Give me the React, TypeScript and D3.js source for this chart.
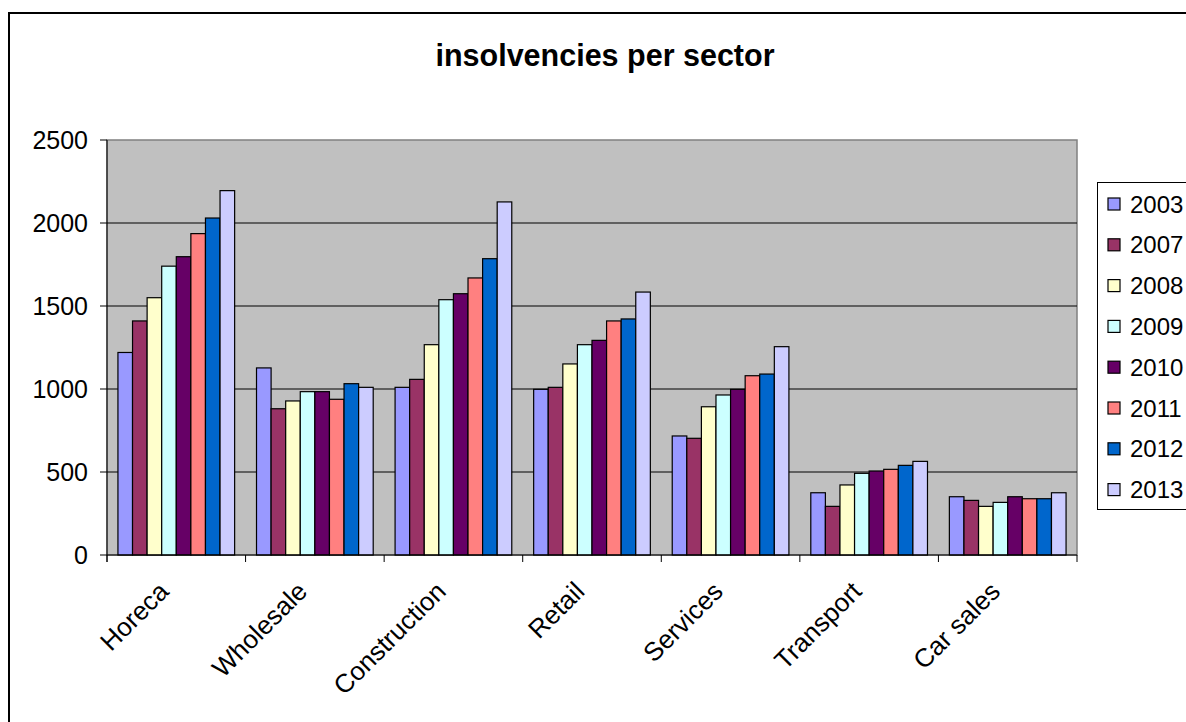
import React from "react";
import * as d3 from "d3";

const categories = ["Horeca", "Wholesale", "Construction", "Retail", "Services", "Transport", "Car sales"];
const years = ["2003", "2007", "2008", "2009", "2010", "2011", "2012", "2013"];
const colors = ["#9999FF", "#993366", "#FFFFCC", "#CCFFFF", "#660066", "#FF8080", "#0066CC", "#CCCCFF"];

// values[category][year]
const horeca = [1220, 1410, 1550, 1740, 1797, 1936, 2030, 2195];
const wholesale = [1127, 881, 928, 984, 984, 938, 1032, 1010];
const construction = [1010, 1058, 1267, 1538, 1574, 1669, 1785, 2127];
const retail = [998, 1010, 1151, 1267, 1293, 1410, 1422, 1584];
const services = [717, 703, 893, 964, 998, 1080, 1090, 1255];
const transport = [375, 293, 422, 492, 506, 516, 540, 564];
const carSales = [351, 329, 293, 317, 351, 339, 339, 375];
const values = [horeca, wholesale, construction, retail, services, transport, carSales];
const yTicks = [0, 500, 1000, 1500, 2000, 2500];

const W = 1186;
const H = 722;
const plot = { left: 107, right: 1077, top: 140, bottom: 555 };
const font = "Arial, 'Liberation Sans', sans-serif";

export default function App() {
  const y = d3.scaleLinear().domain([0, 2500]).range([plot.bottom, plot.top]);
  const x0 = d3.scaleBand<string>().domain(categories).range([plot.left, plot.right]).paddingInner(0).paddingOuter(0);
  const bw = x0.bandwidth();
  const barW = bw / 9.5;
  const gap = bw - barW * 8;
  const x1 = d3.scaleBand<string>().domain(years).range([gap / 2, gap / 2 + barW * 8]);

  return (
    <svg width={W} height={H} style={{ position: "absolute", left: 0, top: 0, background: "#fff" }}>
      <rect x={9} y={13} width={1200} height={720} fill="#fff" stroke="#000" strokeWidth={2} />
      <text x={605} y={66} textAnchor="middle" fontFamily={font} fontWeight="bold" fontSize={30.5}>
        insolvencies per sector
      </text>
      <rect x={plot.left} y={plot.top} width={plot.right - plot.left} height={plot.bottom - plot.top} fill="#C0C0C0" stroke="#808080" strokeWidth={1.5} />
      {yTicks.filter((t) => t > 0 && t < 2500).map((t) => (
        <line key={t} x1={plot.left} x2={plot.right} y1={y(t)} y2={y(t)} stroke="#000" strokeWidth={1} />
      ))}
      {values.map((vals, ci) => (
        <g key={categories[ci]} transform={`translate(${x0(categories[ci])},0)`}>
          {vals.map((v, yi) => (
            <rect
              key={years[yi]}
              x={x1(years[yi])}
              y={y(v)}
              width={x1.bandwidth()}
              height={y(0) - y(v)}
              fill={colors[yi]}
              stroke="#000"
              strokeWidth={1.2}
            />
          ))}
        </g>
      ))}
      {/* y axis */}
      <line x1={plot.left} x2={plot.left} y1={plot.top} y2={plot.bottom + 7} stroke="#000" strokeWidth={1} />
      {yTicks.map((t) => (
        <g key={t}>
          <line x1={plot.left - 7} x2={plot.left} y1={y(t)} y2={y(t)} stroke="#000" strokeWidth={1} />
          <text x={88} y={y(t) + 9} textAnchor="end" fontFamily={font} fontSize={25}>
            {t}
          </text>
        </g>
      ))}
      {/* x axis */}
      <line x1={plot.left} x2={plot.right} y1={plot.bottom} y2={plot.bottom} stroke="#000" strokeWidth={1} />
      {categories.map((c) => (
        <line key={"t" + c} x1={x0(c)!} x2={x0(c)!} y1={plot.bottom} y2={plot.bottom + 7} stroke="#000" />
      ))}
      <line x1={plot.right} x2={plot.right} y1={plot.bottom} y2={plot.bottom + 7} stroke="#000" />
      {categories.map((c) => {
        const cx = x0(c)! + bw / 2;
        return (
          <text
            key={"l" + c}
            transform={`translate(${cx - 6},${plot.bottom + 38}) rotate(-45)`}
            textAnchor="end"
            fontFamily={font}
            fontSize={26}
          >
            {c}
          </text>
        );
      })}
      {/* legend */}
      <rect x={1097.5} y={182.5} width={120} height={327} fill="#fff" stroke="#000" strokeWidth={1} />
      {years.map((yr, i) => (
        <g key={"lg" + yr} transform={`translate(0,${204 + i * 40.8})`}>
          <rect x={1108} y={-6} width={12} height={12} fill={colors[i]} stroke="#000" strokeWidth={1.2} />
          <text x={1130} y={8.5} fontFamily={font} fontSize={24}>
            {yr}
          </text>
        </g>
      ))}
    </svg>
  );
}
